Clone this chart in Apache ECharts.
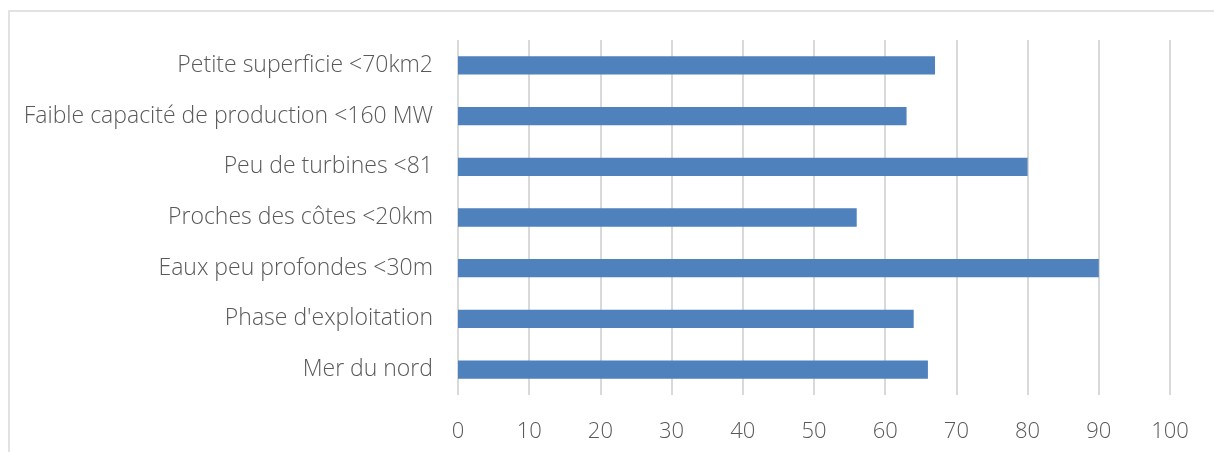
<!DOCTYPE html>
<html>
<head>
<meta charset="utf-8">
<script src="https://cdn.jsdelivr.net/npm/echarts@6/dist/echarts.min.js"></script>
<style>
  html, body { margin: 0; padding: 0; background: #fff; }
  #chart { width: 1214px; height: 452px; }
</style>
</head>
<body>
<div id="chart"></div>
<script>
// Categories listed bottom-to-top (ECharts category axes grow upward)
const categories = [
  "Mer du nord",
  "Phase d'exploitation",
  "Eaux peu profondes <30m",
  "Proches des côtes <20km",
  "Peu de turbines <81",
  "Faible capacité de production <160 MW",
  "Petite superficie <70km2"
];
const values = [66, 64, 90, 56, 80, 63, 67];
const xTicks = [0, 10, 20, 30, 40, 50, 60, 70, 80, 90, 100];

const chart = echarts.init(document.getElementById('chart'), null, { renderer: 'canvas' });
const fontFamily = "'Open Sans', 'Lato', sans-serif";

chart.setOption({
  animation: false,
  backgroundColor: '#ffffff',
  graphic: [{
    type: 'rect',
    shape: { x: 9, y: 11, width: 1400, height: 600 },
    style: { fill: 'none', stroke: '#d9d9d9', lineWidth: 1.5 },
    silent: true
  }],
  grid: { left: 458, right: 44, top: 40, bottom: 57, containLabel: false },
  xAxis: {
    type: 'value',
    min: xTicks[0],
    max: xTicks[xTicks.length - 1],
    interval: 10,
    axisLine: { show: false },
    axisTick: { show: false },
    splitLine: { show: true, lineStyle: { color: '#d9d9d9', width: 2 } },
    axisLabel: { color: '#595959', fontSize: 22, fontFamily, fontWeight: 300, margin: 26 }
  },
  yAxis: {
    type: 'category',
    data: categories,
    axisLine: { show: false },
    axisTick: { show: false },
    axisLabel: { color: '#595959', fontSize: 23, fontFamily, fontWeight: 300, margin: 25 }
  },
  series: [{
    type: 'bar',
    data: values,
    barWidth: '36%',
    itemStyle: { color: '#4f81bd' }
  }]
});
</script>
</body>
</html>
